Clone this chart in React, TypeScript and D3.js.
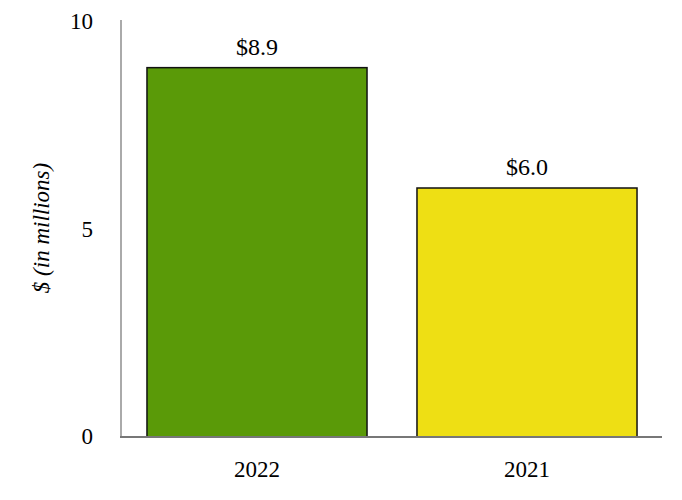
import React from "react";
import * as d3 from "d3";

const categories = ["2022", "2021"];
const values = [8.9, 6.0];
const valueLabels = ["$8.9", "$6.0"];
const colors = ["#5A9A08", "#EEDF14"];
const yTicks = [0, 5, 10];

export default function App() {
  const width = 682;
  const height = 500;
  const left = 122;
  const right = 662;
  const top = 22;
  const bottom = 437;

  const x = d3.scaleBand<string>().domain(categories).range([left, right]).paddingInner(0.185).paddingOuter(0.0925);
  const y = d3.scaleLinear().domain([0, 10]).range([bottom, top]);
  const font = "Liberation Serif";
  const fs = 23;

  return (
    <svg
      width={width}
      height={height}
      style={{ display: "block", position: "absolute", left: 0, top: 0, fontFamily: "'Liberation Serif', serif" }}
    >
      <rect width={width} height={height} fill="#fff" />
      {categories.map((c, i) => (
        <g key={c}>
          <rect
            x={x(c)!}
            y={y(values[i])}
            width={x.bandwidth()}
            height={bottom - y(values[i])}
            fill={colors[i]}
            stroke="#111"
            strokeWidth={1.5}
          />
          <text
            x={x(c)! + x.bandwidth() / 2}
            y={y(values[i]) - 13}
            textAnchor="middle"
            fontFamily={font}
            fontSize={24}
            fill="#000"
          >
            {valueLabels[i]}
          </text>
          <text
            x={x(c)! + x.bandwidth() / 2}
            y={477}
            textAnchor="middle"
            fontFamily={font}
            fontSize={fs}
            fill="#000"
          >
            {c}
          </text>
        </g>
      ))}
      <line x1={left - 1} x2={left - 1} y1={20} y2={bottom} stroke="#aaa" strokeWidth={2} />
      <line x1={left - 2} x2={right} y1={bottom} y2={bottom} stroke="#777" strokeWidth={2} />
      {yTicks.map((t) => (
        <text
          key={t}
          x={93}
          y={y(t) + 7}
          textAnchor="end"
          fontFamily={font}
          fontSize={fs}
          fill="#000"
        >
          {t}
        </text>
      ))}
      <text
        transform={`translate(49, 228) rotate(-90)`}
        textAnchor="middle"
        fontFamily={font}
        fontSize={fs}
        fontStyle="italic"
        fill="#000"
      >
        $ (in millions)
      </text>
    </svg>
  );
}
